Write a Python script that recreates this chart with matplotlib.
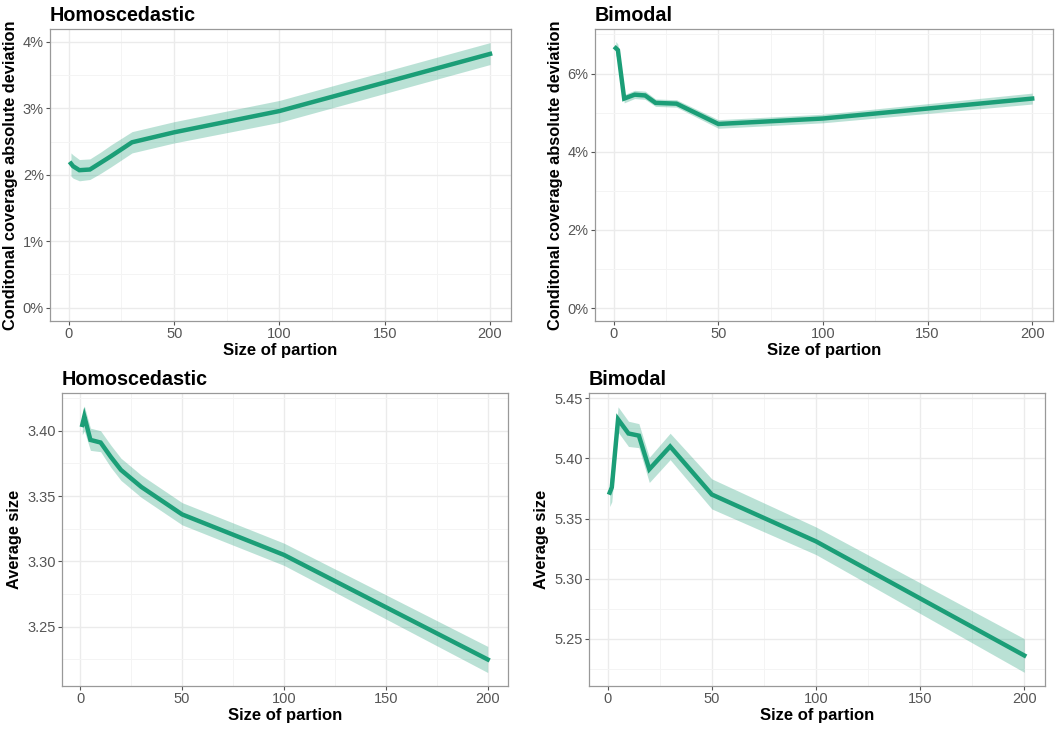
import matplotlib
matplotlib.use("Agg")
import matplotlib.pyplot as plt
from matplotlib.ticker import FuncFormatter, MultipleLocator

plt.rcParams['font.family'] = ['Liberation Sans', 'DejaVu Sans']

# partition sizes
x = [1, 2, 5, 10, 15, 20, 30, 50, 100, 200]

# conditional coverage absolute deviation (%)
homo_dev = [2.17, 2.13, 2.07, 2.08, 2.18, 2.28, 2.49, 2.64, 2.96, 3.82]
homo_dev_lo = [1.98, 1.95, 1.91, 1.93, 2.02, 2.12, 2.33, 2.48, 2.79, 3.66]
homo_dev_hi = [2.33, 2.30, 2.23, 2.24, 2.34, 2.45, 2.65, 2.80, 3.12, 3.99]

bi_dev = [6.65, 6.60, 5.36, 5.46, 5.44, 5.25, 5.23, 4.71, 4.85, 5.36]
bi_dev_lo = [6.45, 6.45, 5.25, 5.36, 5.34, 5.16, 5.14, 4.60, 4.74, 5.22]
bi_dev_hi = [6.82, 6.75, 5.46, 5.57, 5.55, 5.35, 5.33, 4.82, 4.96, 5.50]

# average interval size
homo_size = [3.4045, 3.411, 3.393, 3.391, 3.380, 3.370, 3.357, 3.336, 3.305, 3.225]
homo_size_lo = [3.397, 3.400, 3.385, 3.384, 3.372, 3.362, 3.349, 3.328, 3.297, 3.215]
homo_size_hi = [3.412, 3.419, 3.402, 3.400, 3.389, 3.379, 3.366, 3.345, 3.314, 3.235]

bi_size = [5.3716, 5.376, 5.4326, 5.4208, 5.419, 5.391, 5.410, 5.370, 5.331, 5.236]
bi_size_lo = [5.360, 5.364, 5.422, 5.410, 5.409, 5.380, 5.399, 5.358, 5.320, 5.222]
bi_size_hi = [5.383, 5.388, 5.443, 5.431, 5.429, 5.401, 5.421, 5.383, 5.343, 5.250]

GREEN = '#1b9e77'
W, H = 1058, 730


def panel(box, y, lo, hi, title, ylabel, ylim, ystep, fmt):
    l, r, t, b = box
    ax = fig.add_axes([l / W, 1 - b / H, (r - l) / W, (b - t) / H])
    ax.fill_between(x, lo, hi, color=GREEN, alpha=0.3, linewidth=0)
    ax.plot(x, y, color=GREEN, linewidth=3.2, solid_joinstyle='miter')
    ax.set_xlim(-8.95, 209.95)
    ax.set_ylim(*ylim)
    ax.xaxis.set_major_locator(MultipleLocator(50))
    ax.xaxis.set_minor_locator(MultipleLocator(25))
    ax.yaxis.set_major_locator(MultipleLocator(ystep))
    ax.yaxis.set_minor_locator(MultipleLocator(ystep / 2))
    ax.yaxis.set_major_formatter(FuncFormatter(fmt))
    ax.grid(True, which='major', color='#ebebeb', linewidth=1.0)
    ax.grid(True, which='minor', color='#f4f4f4', linewidth=0.7)
    ax.set_axisbelow(True)
    for s in ax.spines.values():
        s.set_color('#999999')
        s.set_linewidth(0.9)
    ax.tick_params(which='major', length=3, color='#555555', labelsize=10.5,
                   labelcolor='#555555', pad=1.5)
    ax.tick_params(which='minor', length=0)
    ax.set_xlabel('Size of partion', fontsize=12, fontweight='bold', labelpad=1)
    ax.set_ylabel(ylabel, fontsize=11.8, fontweight='bold', labelpad=3.5)
    ax.set_title(title, fontsize=14.2, fontweight='bold', loc='left', pad=5.8)
    return ax


fig = plt.figure(figsize=(W / 100, H / 100), dpi=100)

pct = lambda v, p: '{:.0f}%'.format(v)
dec = lambda v, p: '{:.2f}'.format(v)

panel((50, 511, 29, 321), homo_dev, homo_dev_lo, homo_dev_hi, 'Homoscedastic',
      'Conditonal coverage absolute deviation', (-0.2, 4.195), 1, pct)
panel((595, 1053, 29, 321), bi_dev, bi_dev_lo, bi_dev_hi, 'Bimodal',
      'Conditonal coverage absolute deviation', (-0.33, 7.14), 2, pct)
panel((62, 508, 393, 686), homo_size, homo_size_lo, homo_size_hi, 'Homoscedastic',
      'Average size', (3.2047, 3.4289), 0.05, dec)
panel((589, 1045, 393, 686), bi_size, bi_size_lo, bi_size_hi, 'Bimodal',
      'Average size', (5.2106, 5.4545), 0.05, dec)

fig.savefig('out.png', dpi=100)
